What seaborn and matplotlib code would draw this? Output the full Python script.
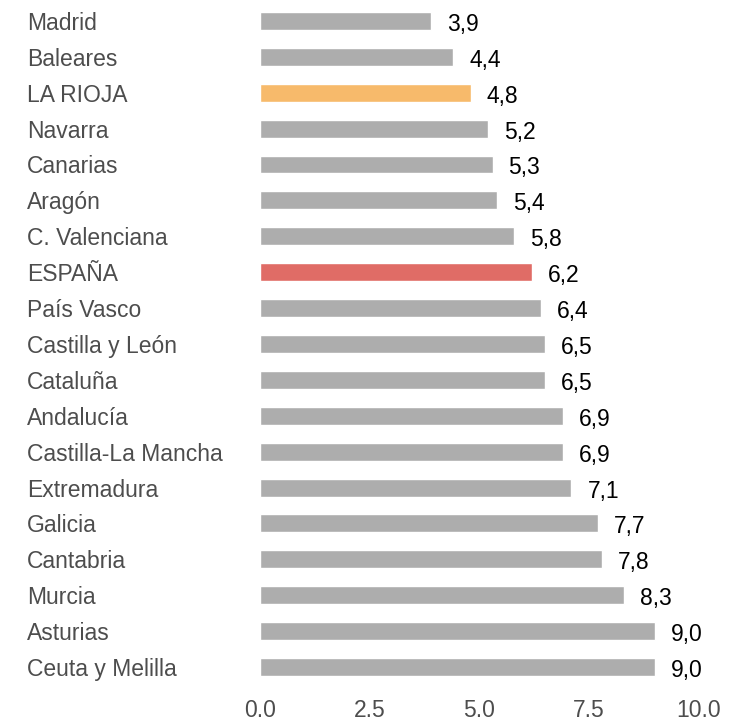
import matplotlib
matplotlib.use("Agg")
import matplotlib.pyplot as plt
import seaborn as sns
import pandas as pd
from matplotlib.transforms import blended_transform_factory

regiones = ["Madrid", "Baleares", "LA RIOJA", "Navarra", "Canarias", "Aragón",
            "C. Valenciana", "ESPAÑA", "País Vasco", "Castilla y León", "Cataluña",
            "Andalucía", "Castilla-La Mancha", "Extremadura", "Galicia", "Cantabria",
            "Murcia", "Asturias", "Ceuta y Melilla"]
valores = [3.9, 4.4, 4.8, 5.2, 5.3, 5.4, 5.8, 6.2, 6.4, 6.5, 6.5, 6.9, 6.9, 7.1,
           7.7, 7.8, 8.3, 9.0, 9.0]
etiquetas = ["3,9", "4,4", "4,8", "5,2", "5,3", "5,4", "5,8", "6,2", "6,4", "6,5",
             "6,5", "6,9", "6,9", "7,1", "7,7", "7,8", "8,3", "9,0", "9,0"]

gris = "#ADADAD"
colores = {"LA RIOJA": "#F7BA6B", "ESPAÑA": "#E06C66"}
paleta = [colores.get(r, gris) for r in regiones]

df = pd.DataFrame({"region": regiones, "valor": valores})

sns.set_style("white")
plt.rcParams["font.family"] = ["Liberation Sans", "DejaVu Sans"]

fig = plt.figure(figsize=(7.33, 7.23), dpi=100)
ax = fig.add_axes([0.355, 0.0526, 0.598, 0.9433])

sns.barplot(data=df, x="valor", y="region", hue="region", palette=paleta,
            legend=False, width=0.5, ax=ax, saturation=1)

# etiquetas de valor a la derecha de cada barra
for i, (v, t) in enumerate(zip(valores, etiquetas)):
    ax.annotate(t, xy=(v, i), xytext=(11.5, -2.5), textcoords="offset points",
                ha="left", va="center", fontsize=16.5, color="black")

ax.set_xlim(0, 10)
ax.set_ylim(18.5, -0.5)
ax.set_xticks([0, 2.5, 5, 7.5, 10])
ax.set_xticklabels(["0.0", "2.5", "5.0", "7.5", "10.0"])
ax.set_xlabel("")
ax.set_ylabel("")
ax.tick_params(axis="both", length=0, labelsize=16.5, labelcolor="#4D4D4D")
ax.tick_params(axis="x", pad=10)
sns.despine(left=True, bottom=True)

# etiquetas del eje y alineadas a la izquierda
for lab in ax.get_yticklabels():
    lab.set_horizontalalignment("left")
    lab.set_transform(blended_transform_factory(fig.transFigure, ax.transData))
    lab.set_position((27 / 733, lab.get_position()[1]))

fig.savefig("out.png", dpi=100)
